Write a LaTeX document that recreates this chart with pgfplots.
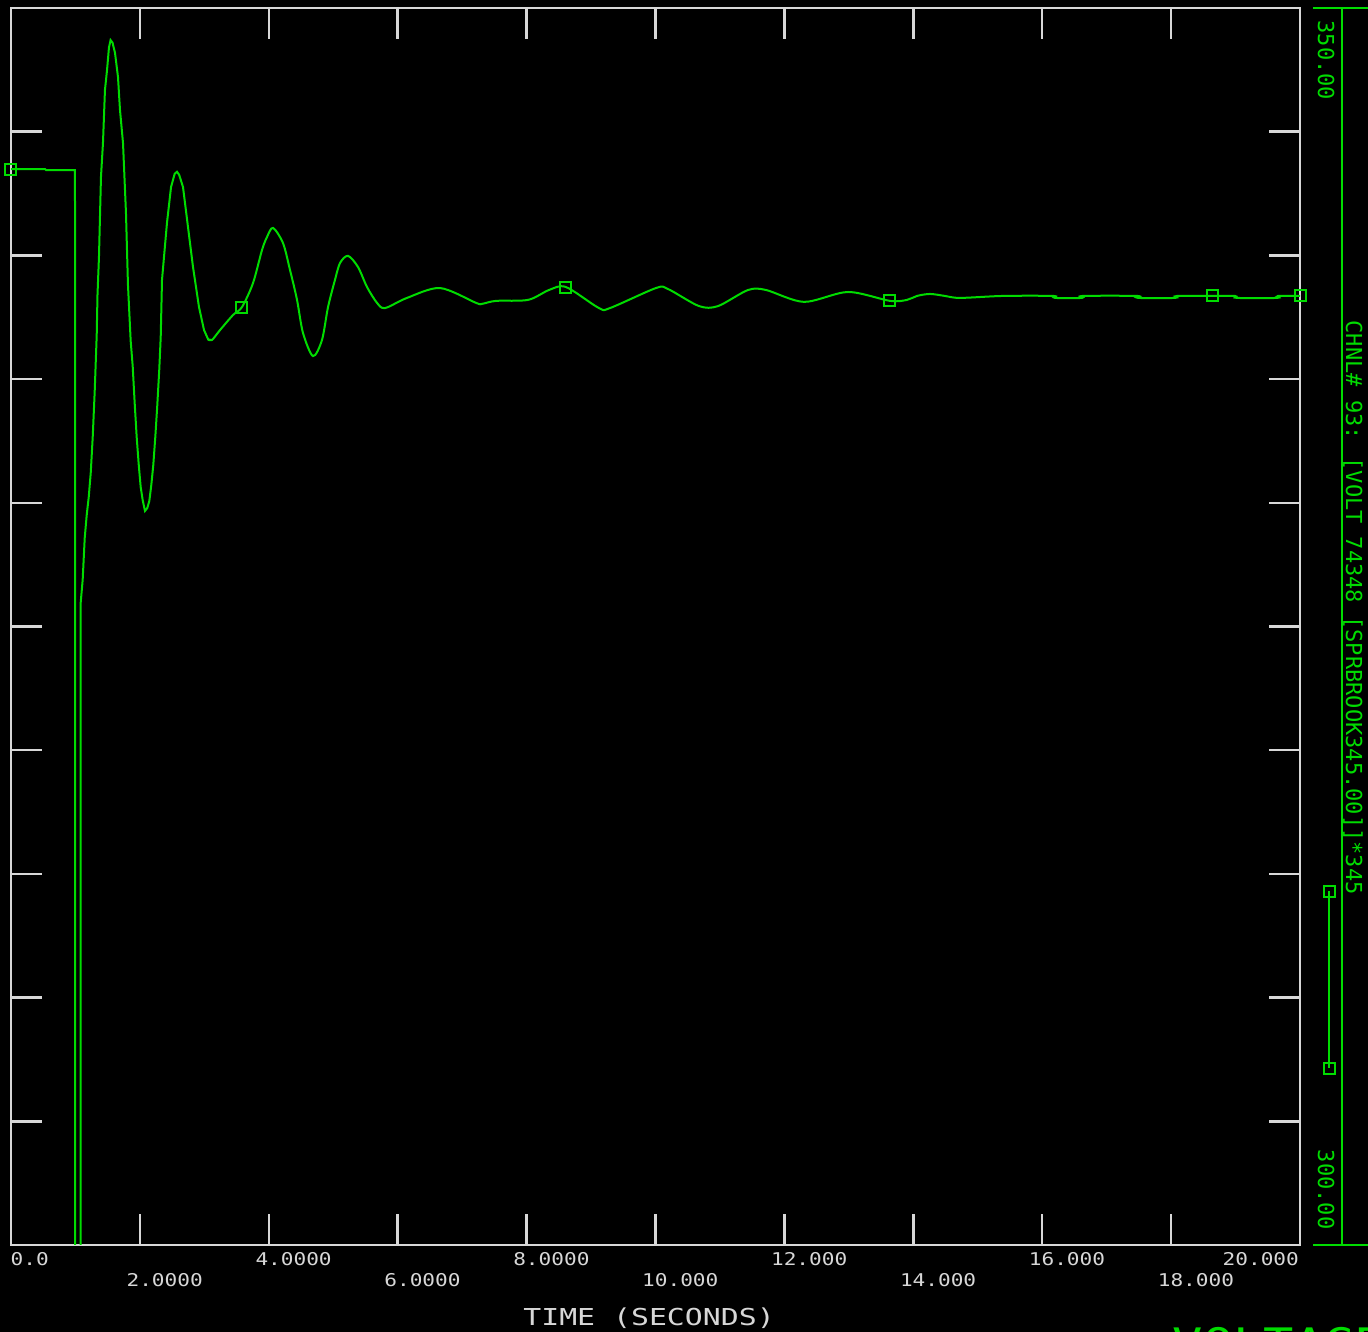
\documentclass[border=0pt]{standalone}
\usepackage{fontspec}
\usepackage{pgfplots}
\pgfplotsset{compat=1.18}
\newfontfamily\tickfont[FakeStretch=1.2]{DejaVu Sans Mono}
\newfontfamily\labfont[FakeStretch=1.28]{DejaVu Sans Mono}
\newfontfamily\grfont{DejaVu Sans Mono}
\definecolor{plotgreen}{RGB}{0,220,0}
\definecolor{axisgray}{RGB}{215,215,215}
\begin{document}
\begin{tikzpicture}
\fill[black] (0,0) rectangle (136.8mm,133.2mm);
\useasboundingbox (0,0) rectangle (136.8mm,133.2mm);
\begin{axis}[
  at={(1.1mm,8.7mm)}, anchor=south west,
  scale only axis, width=128.9mm, height=123.7mm,
  xmin=0, xmax=20, ymin=300, ymax=350,
  axis background/.style={fill=black},
  axis line style={draw=axisgray, line width=0.25mm},
  tick style={draw=axisgray, line width=0.25mm},
  major tick length=3.1mm, tick align=inside, tick pos=both,
  xtick={0,4,8,12,16,20},
  xticklabels={\hspace*{1.3mm}0.0, 4.0000, 8.0000, 12.000, 16.000, \hspace*{-6.4mm}20.000},
  extra x ticks={2,6,10,14,18},
  extra x tick labels={2.0000,6.0000,10.000,14.000,18.000},
  extra x tick style={xticklabel style={yshift=-2.1mm}},
  xticklabel style={anchor=north west, xshift=-1.4mm, yshift=-0.7mm, inner sep=0pt,
    text=axisgray, font=\tickfont\fontsize{5.0}{6}\selectfont},
  ytick={305,310,...,345}, yticklabels={},
  xlabel={TIME (SECONDS)},
  xlabel style={at={(axis description cs:0.495,0)}, anchor=north, yshift=-6.2mm,
    inner sep=0pt, text=axisgray, font=\labfont\fontsize{6.63}{8}\selectfont},
  legend style={at={(axis description cs:1.0240,0.2902)}, anchor=north,
    draw=none, fill=none, inner sep=0pt, outer sep=0pt, nodes={inner sep=0pt}, column sep=0pt},
  legend image code/.code={\draw[plotgreen, line width=0.2mm, mark=square, mark size=0.55mm]
    plot coordinates {(0mm,0mm) (0mm,-17.7mm)};},
]
\addplot[plotgreen, line width=0.2mm, mark=none] coordinates {
 (0,343.49) (0.528,343.49) (0.543,343.45) (0.993,343.45) (0.994,280)
 (1.081,280) (1.081,325.95)
 (1.112,326.88) (1.144,328.58) (1.175,329.51) (1.206,330.23) (1.237,331.20)
 (1.268,332.66) (1.299,334.52) (1.330,336.78) (1.342,338.40)
 (1.365,339.94) (1.396,343.17) (1.427,344.54) (1.458,346.69) (1.490,347.49)
 (1.520,348.40) (1.545,348.70) (1.575,348.60) (1.614,348.18) (1.660,347.21) (1.691,345.88)
 (1.738,344.54) (1.784,341.71) (1.815,338.80) (1.857,336.54) (1.888,335.53)
 (1.919,334.03) (1.950,332.66) (1.981,331.57) (2.012,330.64) (2.043,330.11)
 (2.079,329.67) (2.115,329.79) (2.146,330.07) (2.177,330.72) (2.208,331.53)
 (2.239,332.66) (2.270,333.95) (2.301,335.41) (2.323,336.70) (2.343,339.01)
 (2.420,341.31) (2.483,342.76) (2.540,343.30) (2.576,343.38) (2.610,343.25) (2.669,342.76) (2.746,341.15)
 (2.824,339.53) (2.917,337.91) (2.995,336.98) (3.060,336.60) (3.119,336.58)
};
\addlegendentry{}
\addplot[plotgreen, line width=0.2mm, mark=none, smooth, tension=0.5, forget plot] coordinates {
 (3.060,336.60) (3.119,336.58) (3.243,336.98)
 (3.445,337.59) (3.584,337.91) (3.755,338.88) (3.895,340.22) (3.972,340.74)
 (4.065,341.11) (4.220,340.50) (4.329,339.41) (4.438,338.20) (4.531,336.86)
 (4.686,335.93) (4.825,336.58) (4.919,337.91) (5.027,339.01) (5.105,339.69)
 (5.229,339.98) (5.384,339.53) (5.524,338.72) (5.679,338.08) (5.803,337.87)
 (6.144,338.28) (6.656,338.68) (7.215,338.08) (7.308,338.04) (7.525,338.16)
 (8.022,338.20) (8.348,338.60) (8.611,338.72) (9.123,337.87) (9.294,337.87)
 (10.008,338.68) (10.194,338.64) (10.675,337.95) (10.970,337.95) (11.435,338.60)
 (11.715,338.60) (12.304,338.12) (12.987,338.52) (13.638,338.16) (13.902,338.20)
 (14.057,338.36) (14.259,338.44) (14.492,338.36) (14.725,338.28) (15.392,338.36)
 (16.168,338.36) (16.199,338.28) (16.618,338.28) (16.633,338.36) (17.471,338.36)
 (17.487,338.28) (18.061,338.28) (18.092,338.36) (18.635,338.36) (18.991,338.36)
 (19.022,338.28) (19.643,338.28) (19.659,338.36) (20,338.36)
};
\addplot[plotgreen, line width=0.2mm, only marks, mark=square, mark size=0.55mm, forget plot] coordinates {
 (0,343.49) (3.584,337.91) (8.611,338.72) (13.638,338.16) (18.635,338.36) (20,338.36)
};
\end{axis}
\draw[plotgreen, line width=0.2mm] (134.2mm,8.7mm) -- (134.2mm,132.4mm);
\draw[plotgreen, line width=0.2mm] (131.3mm,132.4mm) -- (136.8mm,132.4mm);
\draw[plotgreen, line width=0.2mm] (131.3mm,8.7mm) -- (136.8mm,8.7mm);
\node[rotate=-90, anchor=west, inner sep=0pt, text=plotgreen, font=\grfont\fontsize{6.26}{7}\selectfont]
  at (132.6mm,131.2mm) {350.00};
\node[rotate=-90, anchor=east, inner sep=0pt, text=plotgreen, font=\grfont\fontsize{6.26}{7}\selectfont]
  at (132.6mm,10.2mm) {300.00};
\node[rotate=-90, anchor=west, inner sep=0pt, text=plotgreen, font=\grfont\fontsize{6.26}{7}\selectfont]
  at (135.3mm,101.2mm) {CHNL\# 93: [VOLT 74348 [SPRBROOK345.00]]*345};
\node[anchor=north west, inner sep=0pt, text=plotgreen, font=\tickfont\fontsize{11.95}{14}\selectfont]
  at (117.2mm,0.5mm) {VOLTAGE};
\end{tikzpicture}
\end{document}
